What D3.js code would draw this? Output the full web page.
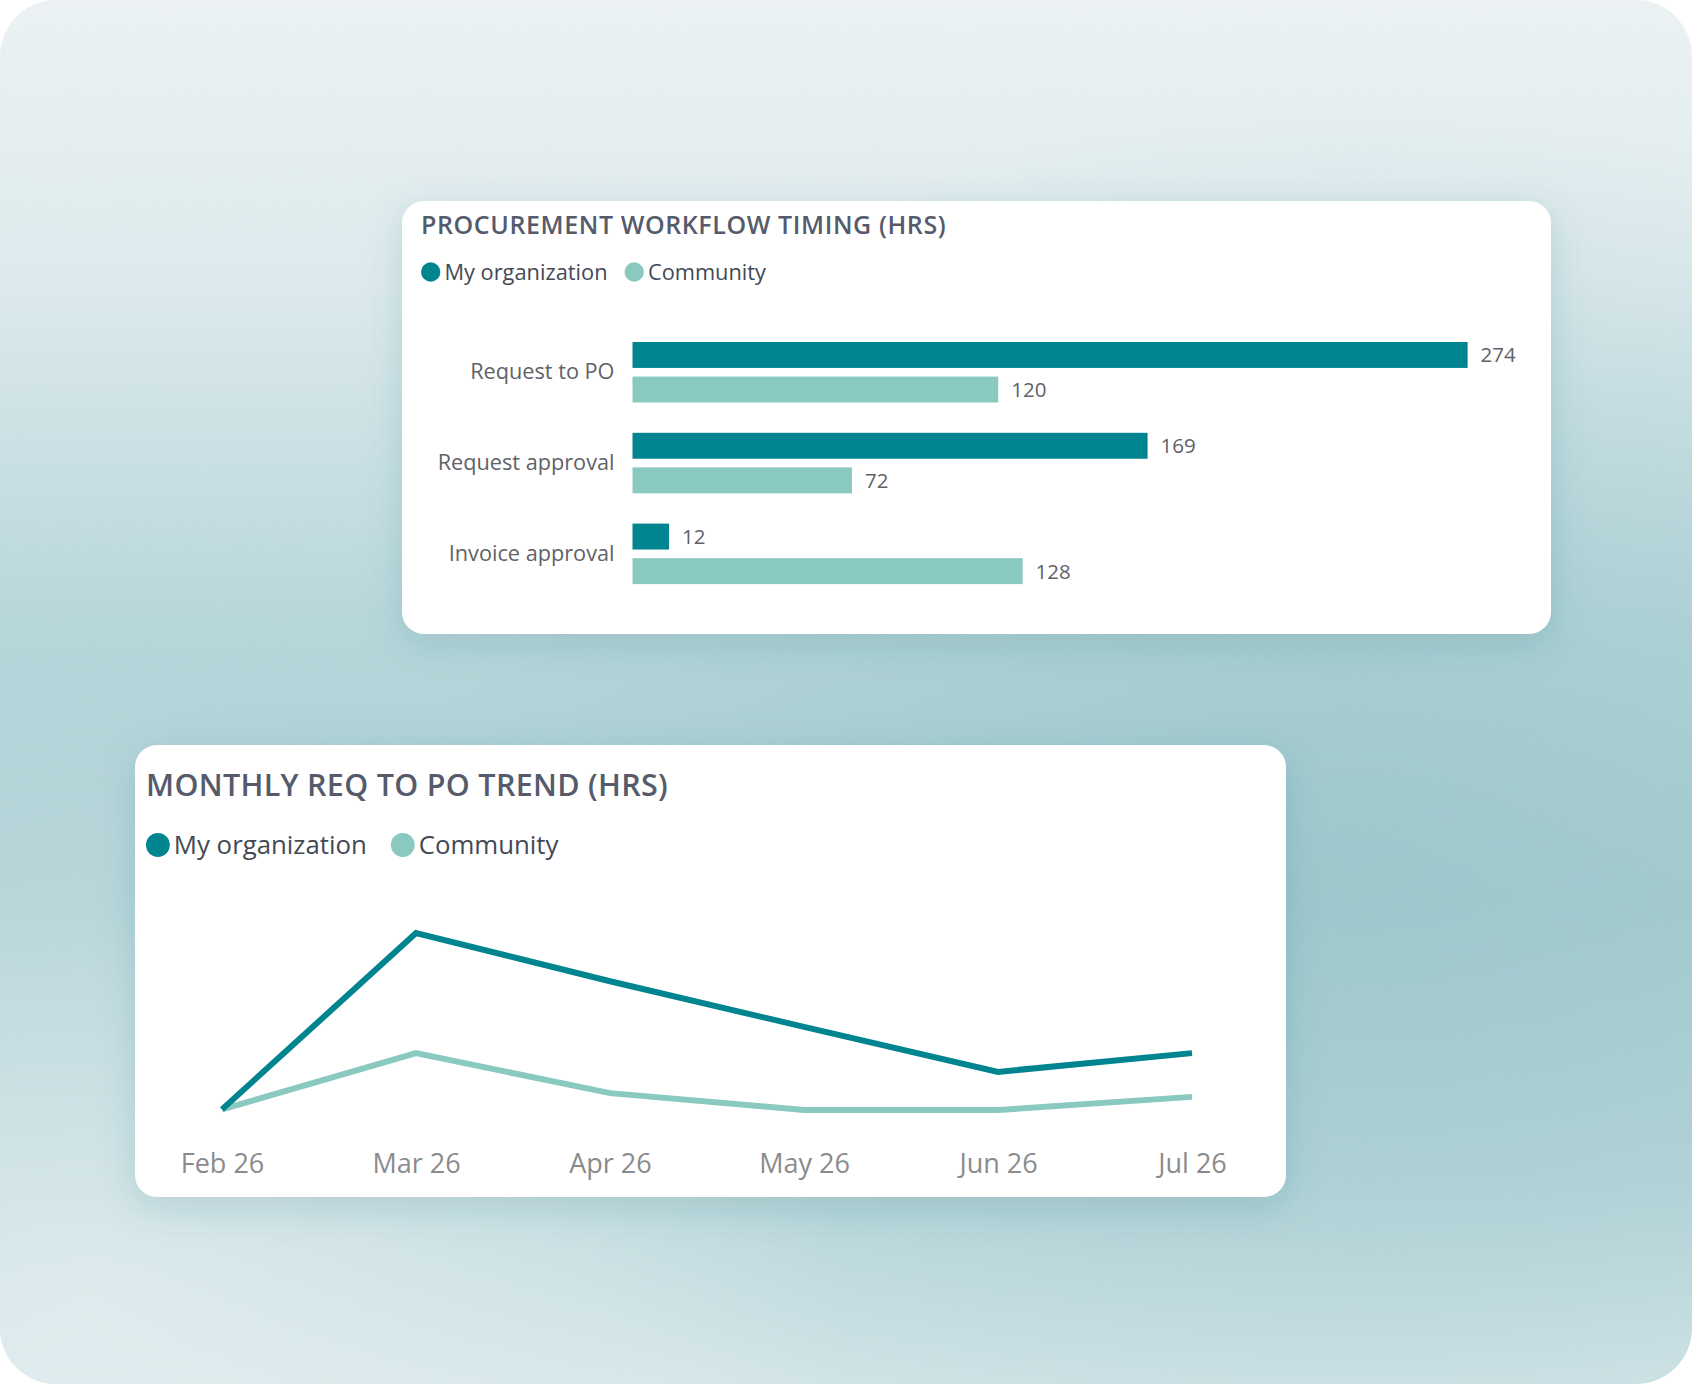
<!DOCTYPE html>
<html>
<head>
<meta charset="utf-8">
<script src="https://cdn.jsdelivr.net/npm/d3@7"></script>
<style>
  html, body { margin: 0; padding: 0; background: #fff; }
  svg { display: block; font-family: "Open Sans", sans-serif; }
</style>
</head>
<body>
<svg id="chart" width="1692" height="1384"></svg>
<script>
// bar chart data
const categories = ['Request to PO', 'Request approval', 'Invoice approval'];
const orgHours = [274, 169, 12];
const communityHours = [120, 72, 128];

// trend data (estimated from the lines, hrs)
const months = ['Feb 26', 'Mar 26', 'Apr 26', 'May 26', 'Jun 26', 'Jul 26'];
const orgTrend = [25, 307, 230, 157, 85, 115];
const communityTrend = [25, 115, 51, 24, 24, 45];

const seriesNames = ['My organization', 'Community'];
const seriesColors = ['#00848f', '#89c9c0'];

const svg = d3.select('#chart');
const W = 1692, H = 1384;

const defs = svg.append('defs');

const bgGrad = defs.append('linearGradient')
    .attr('id', 'bg-grad')
    .attr('x1', 0).attr('y1', 0).attr('x2', 0).attr('y2', 1);
[
    [0, '#ebf1f3'],
    [0.2, '#dce9ec'],
    [0.45, '#b4d5d9'],
    [0.65, '#a6ccd1'],
    [0.85, '#b7d6da'],
    [1, '#d3e5e8'],
].forEach(([o, c]) => bgGrad.append('stop').attr('offset', o).attr('stop-color', c));

const shade = defs.append('radialGradient')
    .attr('id', 'bg-shade')
    .attr('cx', 0.8).attr('cy', 0.62).attr('r', 0.55);
shade.append('stop').attr('offset', 0).attr('stop-color', '#8fbfc5').attr('stop-opacity', 0.55);
shade.append('stop').attr('offset', 1).attr('stop-color', '#8fbfc5').attr('stop-opacity', 0);

const lightLeft = defs.append('radialGradient')
    .attr('id', 'bg-light')
    .attr('cx', 0.05).attr('cy', 0.95).attr('r', 0.45);
lightLeft.append('stop').attr('offset', 0).attr('stop-color', '#e6eff1').attr('stop-opacity', 0.7);
lightLeft.append('stop').attr('offset', 1).attr('stop-color', '#e6eff1').attr('stop-opacity', 0);

// fine grain like the reference backdrop
const grain = defs.append('filter').attr('id', 'grain');
grain.append('feTurbulence')
    .attr('type', 'fractalNoise')
    .attr('baseFrequency', 0.9)
    .attr('numOctaves', 2)
    .attr('seed', 3);
grain.append('feColorMatrix')
    .attr('type', 'matrix')
    .attr('values', '0 0 0 0 1  0 0 0 0 1  0 0 0 0 1  0 0 0 0.35 0');
grain.append('feComposite').attr('in2', 'SourceGraphic').attr('operator', 'in');

const shadow = defs.append('filter')
    .attr('id', 'card-shadow')
    .attr('x', '-10%').attr('y', '-10%').attr('width', '120%').attr('height', '130%');
shadow.append('feDropShadow')
    .attr('dx', 0).attr('dy', 10)
    .attr('stdDeviation', 18)
    .attr('flood-color', '#2d6b74')
    .attr('flood-opacity', 0.18);

// background panel
['url(#bg-grad)', 'url(#bg-shade)', 'url(#bg-light)'].forEach(fill => {
    svg.append('rect')
        .attr('width', W).attr('height', H)
        .attr('rx', 56)
        .attr('fill', fill);
});
svg.append('rect')
    .attr('width', W).attr('height', H)
    .attr('rx', 56)
    .attr('fill', '#fff')
    .attr('opacity', 0.25)
    .attr('filter', 'url(#grain)');

function legend(g, x, y, r, size, gap) {
    const items = g.selectAll('.legend-item')
        .data(seriesNames)
        .enter()
        .append('g')
        .classed('legend-item', true);
    let cx = x;
    items.each(function(d, i) {
        const item = d3.select(this);
        item.append('circle')
            .attr('cx', cx + r)
            .attr('cy', y)
            .attr('r', r)
            .attr('fill', seriesColors[i]);
        const t = item.append('text')
            .attr('x', cx + 2 * r + 4)
            .attr('y', y)
            .attr('dy', '0.36em')
            .attr('font-size', size)
            .attr('fill', '#434955')
            .text(d);
        cx = cx + 2 * r + 4 + t.node().getComputedTextLength() + gap;
    });
}

// ---------- top card: procurement workflow timing ----------
const barCard = svg.append('g');
barCard.append('rect')
    .attr('x', 402).attr('y', 201)
    .attr('width', 1149).attr('height', 433)
    .attr('rx', 22)
    .attr('fill', '#fff')
    .attr('filter', 'url(#card-shadow)');

barCard.append('text')
    .attr('x', 421).attr('y', 234)
    .attr('font-size', 25)
    .attr('font-weight', 600)
    .attr('letter-spacing', 0.6)
    .attr('fill', '#555b6b')
    .text('PROCUREMENT WORKFLOW TIMING (HRS)');

legend(barCard.append('g'), 421, 272, 9.7, 21.8, 17);

const x = d3.scaleLinear().domain([0, 274]).range([632.5, 1467.6]);
const y = d3.scaleBand().domain(categories).range([326.6, 599]);
const ySub = d3.scaleBand().domain(['org', 'community']).range([15.4, 75.9]).paddingInner(0.25);

const barRows = categories.map((c, i) => [
    { cat: c, key: 'org', value: orgHours[i], color: seriesColors[0] },
    { cat: c, key: 'community', value: communityHours[i], color: seriesColors[1] },
]);

const groups = barCard.selectAll('.bar-group')
    .data(barRows)
    .enter()
    .append('g')
    .classed('bar-group', true)
    .attr('transform', d => `translate(0, ${y(d[0].cat)})`);

groups.selectAll('rect')
    .data(d => d)
    .enter()
    .append('rect')
    .attr('x', x(0))
    .attr('y', d => ySub(d.key))
    .attr('width', d => x(d.value) - x(0))
    .attr('height', ySub.bandwidth())
    .attr('fill', d => d.color);

groups.selectAll('.bar-value')
    .data(d => d)
    .enter()
    .append('text')
    .classed('bar-value', true)
    .attr('x', d => x(d.value) + 13)
    .attr('y', d => ySub(d.key) + ySub.bandwidth() / 2)
    .attr('dy', '0.36em')
    .attr('font-size', 20.5)
    .attr('fill', '#5f6267')
    .text(d => d.value);

const yAxis = barCard.append('g')
    .attr('transform', `translate(${x(0)}, 0)`)
    .call(d3.axisLeft(y).tickSize(0).tickPadding(18));
yAxis.select('.domain').remove();
yAxis.selectAll('text')
    .attr('font-family', '"Open Sans", sans-serif')
    .attr('font-size', 21.7)
    .attr('fill', '#5f6267');

// ---------- bottom card: monthly req to po trend ----------
const lineCard = svg.append('g');
lineCard.append('rect')
    .attr('x', 135).attr('y', 745)
    .attr('width', 1151).attr('height', 452)
    .attr('rx', 22)
    .attr('fill', '#fff')
    .attr('filter', 'url(#card-shadow)');

lineCard.append('text')
    .attr('x', 146).attr('y', 796)
    .attr('font-size', 30.5)
    .attr('font-weight', 600)
    .attr('letter-spacing', 0.3)
    .attr('fill', '#555b6b')
    .text('MONTHLY REQ TO PO TREND (HRS)');

legend(lineCard.append('g'), 146, 845, 11.9, 25.8, 24);

const xt = d3.scalePoint().domain(months).range([222, 1192]);
const yt = d3.scaleLinear().domain([0, 320]).range([1125, 925]);

const line = d3.line()
    .x((d, i) => xt(months[i]))
    .y(d => yt(d));

lineCard.selectAll('.trend')
    .data([communityTrend, orgTrend])
    .enter()
    .append('path')
    .classed('trend', true)
    .attr('d', line)
    .attr('fill', 'none')
    .attr('stroke', (d, i) => i === 0 ? seriesColors[1] : seriesColors[0])
    .attr('stroke-width', 6)
    .attr('stroke-linejoin', 'miter');

const xAxis = lineCard.append('g')
    .attr('transform', 'translate(0, 1173)')
    .call(d3.axisBottom(xt).tickSize(0));
xAxis.select('.domain').remove();
xAxis.selectAll('text')
    .attr('y', 0)
    .attr('dy', 0)
    .attr('font-family', '"Open Sans", sans-serif')
    .attr('font-size', 27)
    .attr('fill', '#8a8b8d');
</script>
</body>
</html>
